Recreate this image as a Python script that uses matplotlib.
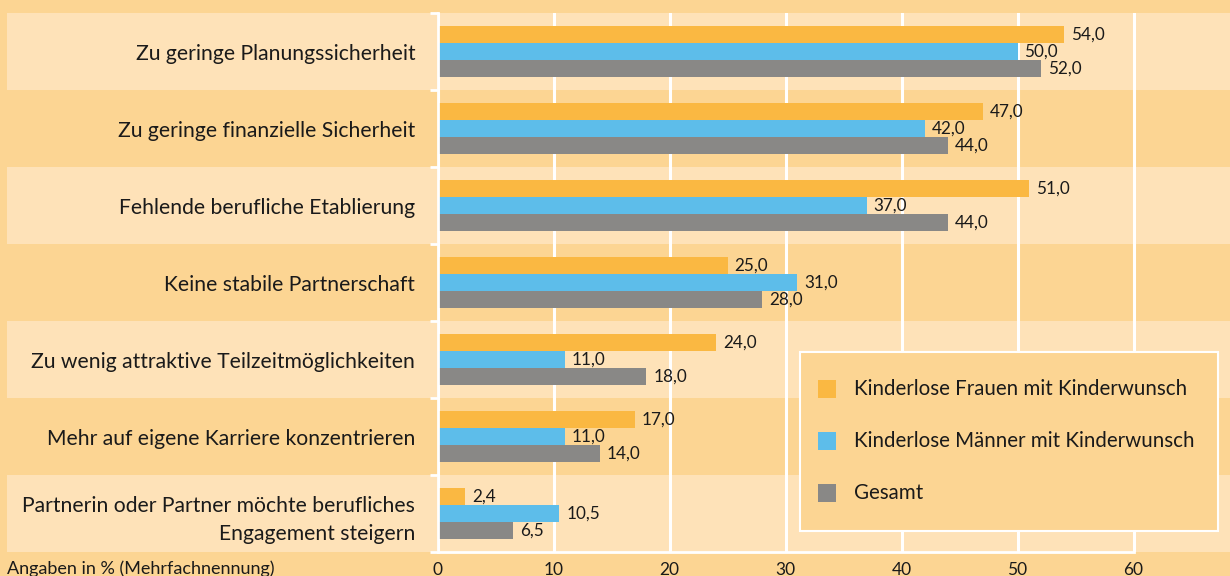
import matplotlib
matplotlib.use("Agg")
import matplotlib.pyplot as plt
import matplotlib.transforms as mtransforms
from matplotlib.patches import Rectangle
import numpy as np

categories = [
    "Zu geringe Planungssicherheit",
    "Zu geringe finanzielle Sicherheit",
    "Fehlende berufliche Etablierung",
    "Keine stabile Partnerschaft",
    "Zu wenig attraktive Teilzeitmöglichkeiten",
    "Mehr auf eigene Karriere konzentrieren",
    "Partnerin oder Partner möchte berufliches\nEngagement steigern",
]
frauen = [54.0, 47.0, 51.0, 25.0, 24.0, 17.0, 2.4]
maenner = [50.0, 42.0, 37.0, 31.0, 11.0, 11.0, 10.5]
gesamt = [52.0, 44.0, 44.0, 28.0, 18.0, 14.0, 6.5]
series_names = ["Kinderlose Frauen mit Kinderwunsch",
                "Kinderlose Männer mit Kinderwunsch",
                "Gesamt"]
xticks = [0, 10, 20, 30, 40, 50, 60]
note = "Angaben in % (Mehrfachnennung)"

C_BG = "#FCD593"
C_LIGHT = "#FEE2B8"
C_OR = "#FAB842"
C_BL = "#5DBDEA"
C_GR = "#898886"
C_TXT = "#1a1a1a"

plt.rcParams['font.family'] = ['Lato', 'DejaVu Sans']

W, H = 1230, 576
fig = plt.figure(figsize=(W / 100, H / 100), dpi=100)
fig.patch.set_facecolor(C_BG)

ax_left = 437.5 / W
ax = fig.add_axes([ax_left, 1 - 552 / H, 1 - ax_left, (552 - 13) / H])
ax.patch.set_visible(False)

n = len(categories)
y = np.arange(n)
ax.set_ylim(n - 0.5, -0.5)
ax.set_xlim(0, (W - 437.5) / 11.6)

# alternating bands
blend = mtransforms.blended_transform_factory(fig.transFigure, ax.transData)
for i in range(0, n, 2):
    ax.add_patch(Rectangle((7 / W, i - 0.5), 1 - 7 / W, 1.0, transform=blend,
                           facecolor=C_LIGHT, edgecolor='none', zorder=0, clip_on=False))

ax.set_axisbelow(True)
ax.set_xticks(xticks)
ax.xaxis.grid(True, color='white', lw=2.2, zorder=0.5)
ax.yaxis.grid(False)

bh = 0.225
off = 0.222
vals = [frauen, maenner, gesamt]
cols = [C_OR, C_BL, C_GR]
for k, (v, c) in enumerate(zip(vals, cols)):
    bars = ax.barh(y + (k - 1) * off, v, height=bh, color=c, zorder=2)
    ax.bar_label(bars, labels=[f"{x:.1f}".replace('.', ',') for x in v],
                 padding=5, fontsize=12.3, color=C_TXT)

# axes styling
for s in ['top', 'right']:
    ax.spines[s].set_visible(False)
ax.spines['left'].set_color('white')
ax.spines['left'].set_linewidth(2)
ax.spines['bottom'].set_color('white')
ax.spines['bottom'].set_linewidth(2)
ax.spines['bottom'].set_bounds(0, 60)

ax.set_yticks(y)
ax.set_yticklabels(categories, fontsize=15.2, color=C_TXT, linespacing=1.5)
ax.tick_params(axis='y', which='major', length=0, pad=16)
ax.set_yticks(np.arange(-0.5, n, 1.0), minor=True)
ax.tick_params(axis='y', which='minor', length=6, width=2, color='white', direction='out')
ax.set_xticklabels([str(t) for t in xticks], fontsize=12.5, color=C_TXT)
ax.tick_params(axis='x', length=0, pad=7)

fig.text(7 / W, 1 - 560 / H, note, fontsize=13, color=C_TXT, va='top', ha='left')

# legend box
lx0, ly0, lx1, ly1 = 800, 352, 1218, 531
fig.patches.append(Rectangle((lx0 / W, 1 - ly1 / H), (lx1 - lx0) / W, (ly1 - ly0) / H,
                             transform=fig.transFigure, facecolor=C_BG, edgecolor='white',
                             lw=1.5, zorder=5))
for name, c, yc in zip(series_names, cols, [389, 441, 493]):
    fig.patches.append(Rectangle((818 / W, 1 - (yc + 9) / H), 18 / W, 18 / H,
                                 transform=fig.transFigure, facecolor=c, edgecolor='none', zorder=6))
    fig.text(854 / W, 1 - yc / H, name, fontsize=14.8, color=C_TXT, va='center', ha='left', zorder=7)

fig.savefig("out.png", dpi=100, facecolor=fig.get_facecolor())
